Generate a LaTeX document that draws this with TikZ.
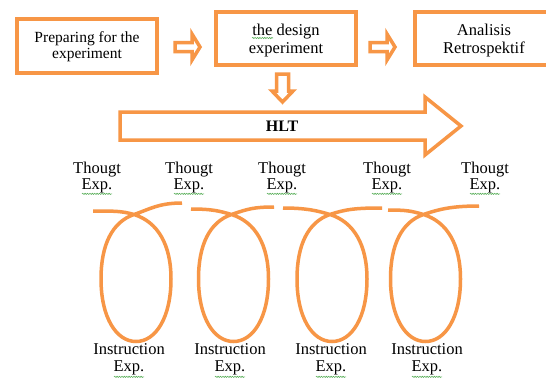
\documentclass[tikz,border=0pt]{standalone}
\usepackage{fontspec}
\setmainfont{Liberation Serif}
\usetikzlibrary{decorations.pathmorphing}
\definecolor{orng}{RGB}{247,150,70}
\definecolor{sqg}{RGB}{90,175,90}
\begin{document}
\begin{tikzpicture}[x=1pt,y=-1pt,
  box/.style={draw=orng,line width=4pt,fill=white,inner sep=0pt},
  barrow/.style={draw=orng,line width=3.5pt,line join=miter,fill=white},
  loopline/.style={draw=orng,line width=3.5pt},
  lbl/.style={align=center,font=\fontsize{16.5}{16}\selectfont,inner sep=0pt,anchor=north},
  btxt/.style={align=center,inner sep=0pt},
  squig/.style={draw=sqg,line width=0.6pt,decorate,decoration={snake,amplitude=0.6pt,segment length=2.4pt}}]
\useasboundingbox (0,0) rectangle (546,381);
\clip (0,0) rectangle (546,381);
\fill[white] (0,0) rectangle (546,381);

% boxes
\node[box,minimum width=140pt,minimum height=54pt] (b1) at (87,46) {};
\node[box,minimum width=140pt,minimum height=53pt] (b2) at (286,38.5) {};
\node[box,minimum width=140pt,minimum height=53pt,anchor=west] (b3) at (413,38.5) {};
\node[btxt,font=\fontsize{15.5}{16.5}\selectfont] (t1) at (87,46.5) {Preparing for the\\experiment};
\node[btxt,font=\fontsize{16.5}{18}\selectfont] (t2) at (286,41) {the design\\experiment};
\node[btxt,font=\fontsize{16.5}{18}\selectfont] (t3) at (484,41) {Analisis\\Retrospektif};
\draw[squig] (252,38) -- (273,38);

% block arrows
\draw[barrow] (175,42.5) -- (192,42.5) -- (192,34) -- (200,47) -- (192,60) -- (192,51.5) -- (175,51.5) -- cycle;
\draw[barrow] (370,42.5) -- (387,42.5) -- (387,34) -- (395,47) -- (387,60) -- (387,51.5) -- (370,51.5) -- cycle;
\draw[barrow] (276.5,74) -- (288.5,74) -- (288.5,91) -- (293,91) -- (282.5,102) -- (272,91) -- (276.5,91) -- cycle;
\draw[barrow] (120,112) -- (425,112) -- (425,97) -- (461,126) -- (425,155) -- (425,140) -- (120,140) -- cycle;
\node[font=\bfseries\fontsize{16}{16}\selectfont] (hlt) at (282,126) {HLT};

% loops
\foreach \cx/\lx/\ly/\rx/\ry in {136/93/211/182/203, 233.5/191/209/274/207, 332/283/208/382/208, 425.5/388/210/479/206}{
  \draw[loopline] (\lx,\ly) .. controls ({(\lx+\cx)/2},\ly) and (\cx-14,211) .. (\cx-2,214.5)
    .. controls (\cx+22,222) and (\cx+35,245) .. (\cx+35,279)
    .. controls (\cx+35,317) and (\cx+20,341.5) .. (\cx,341.5)
    .. controls (\cx-20,341.5) and (\cx-35,317) .. (\cx-35,279)
    .. controls (\cx-35,245) and (\cx-24,222) .. (\cx-2,214.5)
    .. controls (\cx+14,209) and ({(\cx+\rx)/2},\ry) .. (\rx,\ry);
}

% labels
\foreach \x [count=\i] in {97,189,282,387,485}{
  \node[lbl] (th\i) at (\x,161.5) {Thougt\\Exp.};
  \draw[squig] ([xshift=-15pt,yshift=-1pt]th\i.south) -- ([xshift=15pt,yshift=-1pt]th\i.south);
}
\foreach \x [count=\i] in {129,230,331,427}{
  \node[lbl,font=\fontsize{16.5}{17}\selectfont] (in\i) at (\x,343.5) {Instruction\\Exp.};
  \draw[squig] ([xshift=-15pt,yshift=-1.5pt]in\i.south) -- ([xshift=15pt,yshift=-1.5pt]in\i.south);
}
\end{tikzpicture}
\end{document}
